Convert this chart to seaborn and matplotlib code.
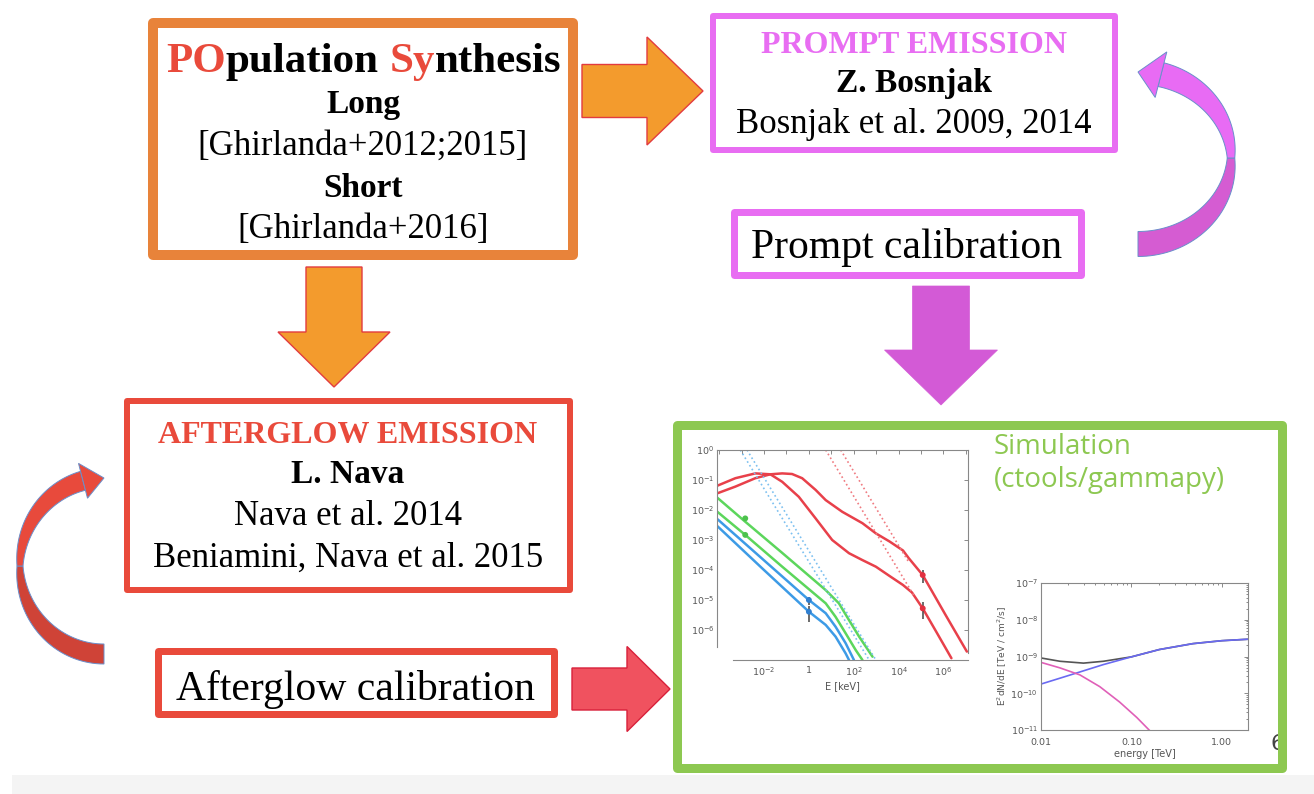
# plot.py
# -------
# Workflow slide: population synthesis -> prompt / afterglow emission -> simulation.
# The main canvas is one axes in pixel units (0..1314 x 0..794, y down),
# with two small spectral plots placed inside the green "Simulation" box.

import numpy as np
import matplotlib.pyplot as plt
import seaborn as sns
from matplotlib.patches import Rectangle, FancyArrow, Polygon
from matplotlib.ticker import FixedLocator, FixedFormatter, NullLocator

# ---------------------------------------------------------------------------
# Data — left inset (SED, E in keV), values as log10
# ---------------------------------------------------------------------------

red_a_logE = [-4.18, -3.28, -2.39, -1.72, -1.19, -0.75, -0.30, 0.30, 0.75, 1.49, 2.39, 2.99, 3.60, 4.20, 4.45, 5.08, 6.10, 7.05]
red_a_logF = [-1.47, -1.22, -0.94, -0.81, -0.78, -0.80, -0.94, -1.33, -1.67, -2.06, -2.44, -2.78, -3.05, -3.35, -3.60, -4.17, -5.50, -6.72]

red_b_logE = [-4.18, -3.28, -2.39, -1.72, -1.19, -0.45, 0.30, 1.04, 1.79, 2.39, 2.99, 3.60, 4.20, 4.60, 5.08, 5.70, 6.36]
red_b_logF = [-1.22, -0.94, -0.78, -0.81, -1.06, -1.56, -2.28, -3.00, -3.44, -3.67, -3.89, -4.20, -4.50, -4.75, -5.28, -6.08, -6.94]

green_a_logE = [-4.18, -2.84, -1.19, 0.75, 1.34, 1.79, 2.24, 2.84]
green_a_logF = [-1.53, -2.39, -3.43, -4.67, -5.11, -5.67, -6.22, -6.89]

green_b_logE = [-4.18, -2.84, -1.19, 0.75, 1.19, 1.64, 2.09, 2.39]
green_b_logF = [-2.00, -2.83, -3.89, -5.11, -5.56, -6.11, -6.67, -7.00]

blue_a_logE = [-4.18, -2.09, 0.0, 0.75, 1.19, 1.64, 2.01]
blue_a_logF = [-2.24, -3.62, -5.00, -5.44, -5.89, -6.44, -7.00]

blue_b_logE = [-4.18, -2.09, 0.0, 0.75, 1.19, 1.64, 1.79]
blue_b_logF = [-2.47, -3.94, -5.39, -5.83, -6.22, -6.78, -7.00]

# straight dotted power laws (start / end)
red_dot_a_logE, red_dot_a_logF = [0.75, 4.67], [0.0, -4.83]
red_dot_b_logE, red_dot_b_logF = [1.42, 4.45], [0.0, -3.73]
blue_dot_a_logE, blue_dot_a_logF = [-3.06, 2.69], [0.0, -7.0]
blue_dot_b_logE, blue_dot_b_logF = [-2.76, 2.99], [0.0, -7.0]

# data points with error bars (log10 E, log10 F, log10 low, log10 high)
green_pts_logE = [-2.84, -2.84]
green_pts_logF = [-2.28, -2.83]
blue_pts_logE = [0.0, 0.0]
blue_pts_logF = [-5.00, -5.39]
blue_pts_lo = [-5.15, -5.72]
blue_pts_hi = [-4.89, -5.20]
red_pts_logE = [5.08, 5.08]
red_pts_logF = [-4.17, -5.28]
red_pts_lo = [-4.44, -5.63]
red_pts_hi = [-4.00, -5.06]

sed_xticks = [-4, -3, -2, -1, 0, 1, 2, 3, 4, 5, 6, 7]
sed_xlabels = ["", "", "$10^{-2}$", "", "1", "", "$10^{2}$", "", "$10^{4}$", "", "$10^{6}$", ""]
sed_yticks = [0, -1, -2, -3, -4, -5, -6, -7]
sed_ylabels = ["$10^{0}$", "$10^{-1}$", "$10^{-2}$", "$10^{-3}$", "$10^{-4}$", "$10^{-5}$", "$10^{-6}$", ""]

# ---------------------------------------------------------------------------
# Data — right inset (E^2 dN/dE vs energy in TeV), log10 values
# ---------------------------------------------------------------------------

tev_logE = [-2.0, -1.79, -1.53, -1.31, -1.0, -0.69, -0.32, 0.0, 0.29]
total_logF = [-9.04, -9.13, -9.18, -9.13, -9.01, -8.81, -8.65, -8.57, -8.53]
blue_tev_logF = [-9.75, -9.59, -9.39, -9.22, -9.01, -8.81, -8.65, -8.57, -8.53]
pink_logE = [-2.0, -1.79, -1.57, -1.35, -1.13, -0.94, -0.78]
pink_logF = [-9.16, -9.31, -9.50, -9.82, -10.24, -10.66, -11.06]

tev_xticks = [0.01, 0.10, 1.00]
tev_xlabels = ["0.01", "0.10", "1.00"]
tev_yticks = [1e-11, 1e-10, 1e-9, 1e-8, 1e-7]
tev_ylabels = ["$10^{-11}$", "$10^{-10}$", "$10^{-9}$", "$10^{-8}$", "$10^{-7}$"]

# ---------------------------------------------------------------------------
# Colours
# ---------------------------------------------------------------------------

ORANGE = "#E8833A"
ORANGE_FILL = "#F39B2D"
RED = "#E94A3B"
MAGENTA = "#E86DF2"
MAGENTA_DARK = "#D35AD6"
GREEN = "#8DC851"
EDGE_BLUE = "#6A8FCB"

sns.set_theme(style="white")
plt.rcParams["font.family"] = ["Liberation Serif", "DejaVu Serif"]
plt.rcParams["text.color"] = "black"


def box(ax, x0, y0, x1, y1, bw, color):
    # outer edge given in pixels; the stroke is centred on the path
    ax.add_patch(Rectangle((x0 + bw / 2, y0 + bw / 2), x1 - x0 - bw, y1 - y0 - bw,
                           fc="none", ec=color, lw=bw * 0.72, joinstyle="round", zorder=2))


def line(ax, s, x, y, size, bold=False, color="black"):
    ax.text(x, y, s, ha="center", va="baseline", fontsize=size, color=color,
            fontweight="bold" if bold else "normal", zorder=3)


def curved_arrow(ax, cx, cy, rx, ry, side, w_max, head_w, head_l, c_low, c_high):
    # half-ellipse ribbon from the bottom (tail) round to the top (head),
    # bulging to the right (side=+1) or left (side=-1); thin where it "twists"
    phi_b = -np.arccos(head_l / rx)
    for a0, a1, col in [(np.pi / 2, 0.0, c_low), (0.0, phi_b, c_high)]:
        phi = np.linspace(a0, a1, 40)
        cxs = cx + side * rx * np.cos(phi)
        cys = cy + ry * np.sin(phi)
        nx, ny = side * np.cos(phi), np.sin(phi)
        w = w_max * (0.3 + 0.7 * np.abs(np.sin(phi))) / 2
        outer = np.column_stack([cxs + nx * w, cys + ny * w])
        inner = np.column_stack([cxs - nx * w, cys - ny * w])
        ax.add_patch(Polygon(np.vstack([outer, inner[::-1]]), closed=True, fc=col,
                             ec=EDGE_BLUE, lw=0.7, zorder=2))
    bx, by = cx + side * rx * np.cos(phi_b), cy + ry * np.sin(phi_b)
    nx, ny = side * np.cos(phi_b), np.sin(phi_b)
    head = [(bx + nx * head_w / 2, by + ny * head_w / 2), (cx, cy - ry),
            (bx - nx * head_w / 2, by - ny * head_w / 2)]
    ax.add_patch(Polygon(head, closed=True, fc=c_high, ec=EDGE_BLUE, lw=0.7, zorder=2))


fig = plt.figure(figsize=(13.14, 7.94), dpi=100)
ax = fig.add_axes([0, 0, 1, 1])
ax.set_xlim(0, 1314)
ax.set_ylim(794, 0)
ax.axis("off")

# faint grey strip at the bottom of the slide
ax.add_patch(Rectangle((12, 775), 1302, 19, fc="#F4F4F4", ec="none", zorder=0))

# ---------------------------------------------------------------------------
# Population synthesis box
# ---------------------------------------------------------------------------

box(ax, 148, 18, 578, 260, 10, ORANGE)
t1 = ax.text(166, 72, "PO", color=RED, fontsize=31, fontweight="bold", va="baseline", zorder=3)
t2 = ax.annotate("pulation", xy=(1, 0), xycoords=t1, va="bottom", fontsize=31,
                 fontweight="bold", color="black")
t3 = ax.annotate("Sy", xy=(1, 0), xycoords=t2, xytext=(7.8, 0), textcoords="offset points",
                 va="bottom", fontsize=31, fontweight="bold", color=RED)
ax.annotate("nthesis", xy=(1, 0), xycoords=t3, va="bottom", fontsize=31, fontweight="bold",
            color="black")
line(ax, "Long", 363, 113, 24, bold=True)
line(ax, "[Ghirlanda+2012;2015]", 363, 155, 25)
line(ax, "Short", 363, 197, 24, bold=True)
line(ax, "[Ghirlanda+2016]", 363, 238, 25)

# orange block arrows
ax.add_patch(FancyArrow(582, 91, 121, 0, width=53, head_width=108, head_length=56,
                        length_includes_head=True, fc=ORANGE_FILL, ec="#E23B3F", lw=1, zorder=2))
ax.add_patch(FancyArrow(334, 267, 0, 120, width=56, head_width=112, head_length=55,
                        length_includes_head=True, fc=ORANGE_FILL, ec="#E23B3F", lw=1, zorder=2))

# ---------------------------------------------------------------------------
# Prompt emission
# ---------------------------------------------------------------------------

box(ax, 710, 13, 1118, 153, 6, MAGENTA)
line(ax, "PROMPT EMISSION", 914, 53, 23, bold=True, color=MAGENTA)
line(ax, "Z. Bosnjak", 914, 92, 24, bold=True)
line(ax, "Bosnjak et al. 2009, 2014", 914, 133, 25)

box(ax, 730, 208, 1084, 278, 7, MAGENTA)
line(ax, "Prompt calibration", 907, 258, 30)

ax.add_patch(FancyArrow(941, 286, 0, 119, width=57, head_width=113, head_length=55,
                        length_includes_head=True, fc=MAGENTA_DARK, ec=MAGENTA_DARK, lw=0.5, zorder=2))

curved_arrow(ax, 1138, 158, 93, 86, +1, 25, 47, 23, "#D55CD2", "#E86BF4")

# ---------------------------------------------------------------------------
# Afterglow emission
# ---------------------------------------------------------------------------

box(ax, 124, 398, 573, 593, 6, RED)
line(ax, "AFTERGLOW EMISSION", 348, 443, 23, bold=True, color=RED)
line(ax, "L. Nava", 348, 483, 24, bold=True)
line(ax, "Nava et al. 2014", 348, 525, 25)
line(ax, "Beniamini, Nava et al. 2015", 348, 567, 25)

box(ax, 154, 647, 557, 717, 7, RED)
line(ax, "Afterglow calibration", 355, 700, 30)

ax.add_patch(FancyArrow(572, 689, 98, 0, width=42, head_width=85, head_length=43,
                        length_includes_head=True, fc="#F0525F", ec="#D8203A", lw=1, zorder=2))

curved_arrow(ax, 104, 566, 84, 88, -1, 20, 36, 21, "#CF4337", "#E84A3C")

# ---------------------------------------------------------------------------
# Simulation box
# ---------------------------------------------------------------------------

ax.text(1270, 750, "6", fontsize=16, color="#444444", family="DejaVu Sans", zorder=1)
box(ax, 672, 420, 1286, 772, 9, GREEN)
ax.text(994, 454, "Simulation", fontsize=20, color=GREEN, family="Open Sans", va="baseline", zorder=3)
ax.text(994, 487, "(ctools/gammapy)", fontsize=20, color=GREEN, family="Open Sans", va="baseline", zorder=3)


def style_inset(a, xpad):
    for sp in a.spines.values():
        sp.set_color("#888888")
        sp.set_linewidth(0.8)
    a.tick_params(which="both", direction="in", top=True, right=True, colors="#777777",
                  labelcolor="#555555", labelsize=6.8, length=3, width=0.6, pad=2)
    a.tick_params(axis="x", pad=xpad)
    a.tick_params(which="minor", length=1.5)
    for lab in a.get_xticklabels() + a.get_yticklabels():
        lab.set_family("DejaVu Sans")


def p10(v):
    return np.power(10.0, np.asarray(v, dtype=float))


# left inset: GRB SED
sed = fig.add_axes([717 / 1314, 1 - 660 / 794, 251 / 1314, 210 / 794])
sed.set_facecolor("white")
for lx, ly, c in [(red_a_logE, red_a_logF, "#E8404A"), (red_b_logE, red_b_logF, "#E8404A"),
                  (green_a_logE, green_a_logF, "#5CD65C"), (green_b_logE, green_b_logF, "#5CD65C"),
                  (blue_a_logE, blue_a_logF, "#3D9BE6"), (blue_b_logE, blue_b_logF, "#3D9BE6")]:
    sns.lineplot(x=p10(lx), y=p10(ly), ax=sed, color=c, lw=1.8, sort=False, estimator=None)
for lx, ly, c in [(red_dot_a_logE, red_dot_a_logF, "#F07A80"), (red_dot_b_logE, red_dot_b_logF, "#F07A80"),
                  (blue_dot_a_logE, blue_dot_a_logF, "#7CC0F0"), (blue_dot_b_logE, blue_dot_b_logF, "#7CC0F0")]:
    sns.lineplot(x=p10(lx), y=p10(ly), ax=sed, color=c, lw=1.2, ls=":", sort=False, estimator=None)

sed.vlines(p10(blue_pts_logE), p10(blue_pts_lo), p10(blue_pts_hi), color="#444444", lw=1.1, zorder=3)
sed.vlines(p10(red_pts_logE), p10(red_pts_lo), p10(red_pts_hi), color="#444444", lw=1.1, zorder=3)
sns.scatterplot(x=p10(green_pts_logE), y=p10(green_pts_logF), ax=sed, color="#4CC24C", s=18, ec="none", zorder=4)
sns.scatterplot(x=p10(blue_pts_logE), y=p10(blue_pts_logF), ax=sed, color="#2F7FD0", s=18, ec="none", zorder=4)
sns.scatterplot(x=p10(red_pts_logE), y=p10(red_pts_logF), ax=sed, color="#E23040", s=18, ec="none", zorder=4)

sed.set_xscale("log")
sed.set_yscale("log")
sed.set_xlim(p10(-4.1), p10(7.1))
sed.set_ylim(1e-7, 1e0)
sed.xaxis.set_major_locator(FixedLocator(p10(sed_xticks)))
sed.xaxis.set_major_formatter(FixedFormatter(sed_xlabels))
sed.yaxis.set_major_locator(FixedLocator(p10(sed_yticks)))
sed.yaxis.set_major_formatter(FixedFormatter(sed_ylabels))
sed.xaxis.set_minor_locator(NullLocator())
sed.yaxis.set_minor_locator(NullLocator())
# IDL-style frame: the bottom axis is detached from the left one
sed.spines["left"].set_bounds(p10(-6.57), 1.0)
sed.spines["right"].set_bounds(p10(-6.75), 1.0)
sed.spines["bottom"].set_bounds(p10(-3.39), p10(7.1))
sed.set_xlabel("E [keV]", fontsize=7, color="#555555", family="DejaVu Sans", labelpad=2)
style_inset(sed, 4)

# right inset: VHE spectrum
vhe = fig.add_axes([1041 / 1314, 1 - 730 / 794, 207 / 1314, 147 / 794])
vhe.set_facecolor("white")
sns.lineplot(x=p10(tev_logE), y=p10(total_logF), ax=vhe, color="#555555", lw=1.2, sort=False, estimator=None)
sns.lineplot(x=p10(tev_logE), y=p10(blue_tev_logF), ax=vhe, color="#6A6AF2", lw=1.2, sort=False, estimator=None)
sns.lineplot(x=p10(pink_logE), y=p10(pink_logF), ax=vhe, color="#E060B8", lw=1.2, sort=False, estimator=None)
vhe.set_xscale("log")
vhe.set_yscale("log")
vhe.set_xlim(0.01, 1.95)
vhe.set_ylim(1e-11, 1e-7)
vhe.xaxis.set_major_locator(FixedLocator(tev_xticks))
vhe.xaxis.set_major_formatter(FixedFormatter(tev_xlabels))
vhe.yaxis.set_major_locator(FixedLocator(tev_yticks))
vhe.yaxis.set_major_formatter(FixedFormatter(tev_ylabels))
vhe.set_xlabel("energy [TeV]", fontsize=7, color="#555555", family="DejaVu Sans", labelpad=1)
vhe.set_ylabel("E$^2$dN/dE [TeV / cm$^2$/s]", fontsize=6.5, color="#555555", family="DejaVu Sans", labelpad=1)
style_inset(vhe, 6)

fig.savefig("out.png", dpi=100)
